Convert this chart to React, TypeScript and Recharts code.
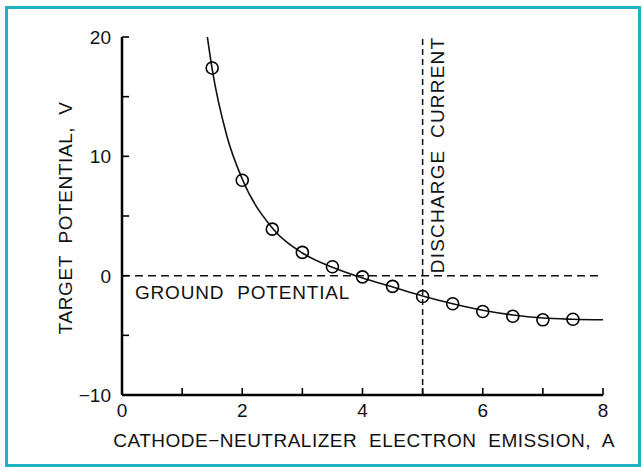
import React from 'react';
import {
  ComposedChart,
  Line,
  Scatter,
  XAxis,
  YAxis,
  ReferenceLine,
} from 'recharts';

// measured points (circles)
const emission = [1.5, 2, 2.5, 3, 3.5, 4, 4.5, 5, 5.5, 6, 6.5, 7, 7.5];
const potential = [17.4, 8.0, 3.9, 1.95, 0.75, -0.1, -0.9, -1.75, -2.35, -3.0, -3.4, -3.7, -3.65];

// fitted curve
const curveX = [1.42, 1.5, 1.75, 2, 2.5, 3, 3.5, 4, 4.5, 5, 5.5, 6, 6.5, 7, 7.5, 8];
const curveY = [20, 17.3, 11.6, 8.1, 4.0, 1.9, 0.7, -0.2, -0.95, -1.7, -2.35, -2.9, -3.3, -3.55, -3.65, -3.7];

const xTicks = [0, 1, 2, 3, 4, 5, 6, 7, 8];
const yTicks = [-10, -5, 0, 5, 10, 15, 20];

const points = emission.map((x, i) => ({ x, y: potential[i] }));
const curve = curveX.map((x, i) => ({ x, y: curveY[i] }));

const FONT = '"Liberation Sans", Arial, sans-serif';
const INK = '#111';
const TICK_LEN = 7;
const X_GAP = 8;
const Y_GAP = 11;

const Ring = (props: any) => (
  <circle cx={props.cx} cy={props.cy} r={6} fill="none" stroke="#000" strokeWidth={1.6} />
);

// inward tick mark plus label for even values
const XTick = (props: any) => {
  const { x, y, payload } = props;
  const axisY = y - X_GAP;
  const v = payload.value as number;
  return (
    <g>
      <line x1={x} y1={axisY} x2={x} y2={axisY - TICK_LEN} stroke="#000" strokeWidth={1.6} />
      {v % 2 === 0 && (
        <text x={x} y={y} dy="0.75em" textAnchor="middle" fontFamily={FONT} fontSize={19} fill={INK}>
          {v}
        </text>
      )}
    </g>
  );
};

const YTick = (props: any) => {
  const { x, y, payload } = props;
  const axisX = x + Y_GAP;
  const v = payload.value as number;
  return (
    <g>
      <line x1={axisX} y1={y} x2={axisX + TICK_LEN} y2={y} stroke="#000" strokeWidth={1.6} />
      {v % 10 === 0 && (
        <text x={x} y={y} dy="0.36em" textAnchor="end" fontFamily={FONT} fontSize={19} fill={INK}>
          {String(v).replace('-', '−')}
        </text>
      )}
    </g>
  );
};

const DischargeLabel = (props: any) => {
  const { x, y } = props.viewBox;
  const cx = x + 15;
  const cy = y + 118;
  return (
    <text
      x={cx}
      y={cy}
      transform={`rotate(-90 ${cx} ${cy})`}
      textAnchor="middle"
      dominantBaseline="central"
      fontFamily={FONT}
      fontSize={19}
      fill={INK}
      style={{ letterSpacing: 1.2, wordSpacing: 5 }}
    >
      DISCHARGE CURRENT
    </text>
  );
};

const GroundLabel = (props: any) => {
  const { x, y } = props.viewBox;
  return (
    <text
      x={x + 13}
      y={y + 17}
      dominantBaseline="central"
      fontFamily={FONT}
      fontSize={19}
      fill={INK}
      style={{ letterSpacing: 0.8, wordSpacing: 7 }}
    >
      GROUND POTENTIAL
    </text>
  );
};

export default function App() {
  return (
    <div style={{ position: 'absolute', left: 0, top: 0, width: 642, height: 467, background: '#fff' }}>
      <div
        style={{
          position: 'absolute',
          left: 5,
          top: 6,
          width: 630,
          height: 455,
          border: '3px solid #1fb2c2',
        }}
      />
      <ComposedChart
        width={642}
        height={467}
        margin={{ top: 37, right: 39, bottom: 0, left: 52 }}
        style={{ position: 'absolute', left: 0, top: 0 }}
      >
        <XAxis
          type="number"
          dataKey="x"
          domain={[0, 8]}
          ticks={xTicks}
          interval={0}
          allowDataOverflow
          height={72}
          tickSize={0}
          tickMargin={X_GAP}
          axisLine={{ stroke: '#000', strokeWidth: 2.5 }}
          tickLine={false}
          tick={<XTick />}
        />
        <YAxis
          type="number"
          dataKey="y"
          domain={[-10, 20]}
          ticks={yTicks}
          interval={0}
          allowDataOverflow
          width={70}
          tickSize={0}
          tickMargin={Y_GAP}
          axisLine={{ stroke: '#000', strokeWidth: 2.5 }}
          tickLine={false}
          tick={<YTick />}
        />
        <ReferenceLine
          y={0}
          stroke={INK}
          strokeWidth={1.5}
          strokeDasharray="8 5"
          label={<GroundLabel />}
        />
        <ReferenceLine
          x={5}
          stroke={INK}
          strokeWidth={1.5}
          strokeDasharray="6 4"
          label={<DischargeLabel />}
        />
        <Line
          data={curve}
          dataKey="y"
          type="monotone"
          stroke={INK}
          strokeWidth={1.6}
          dot={false}
          activeDot={false}
          isAnimationActive={false}
        />
        <Scatter data={points} dataKey="y" shape={<Ring />} isAnimationActive={false} />
      </ComposedChart>
      <svg
        width={642}
        height={467}
        style={{ position: 'absolute', left: 0, top: 0, pointerEvents: 'none' }}
      >
        <text
          x={65}
          y={218}
          transform="rotate(-90 65 218)"
          textAnchor="middle"
          dominantBaseline="central"
          fontFamily={FONT}
          fontSize={19}
          fill={INK}
          style={{ letterSpacing: 0.6, wordSpacing: 6 }}
        >
          TARGET POTENTIAL, V
        </text>
        <text
          x={364}
          y={440}
          textAnchor="middle"
          dominantBaseline="central"
          fontFamily={FONT}
          fontSize={19}
          fill={INK}
          style={{ letterSpacing: 0.5, wordSpacing: 6 }}
        >
          CATHODE−NEUTRALIZER ELECTRON EMISSION, A
        </text>
      </svg>
    </div>
  );
}
